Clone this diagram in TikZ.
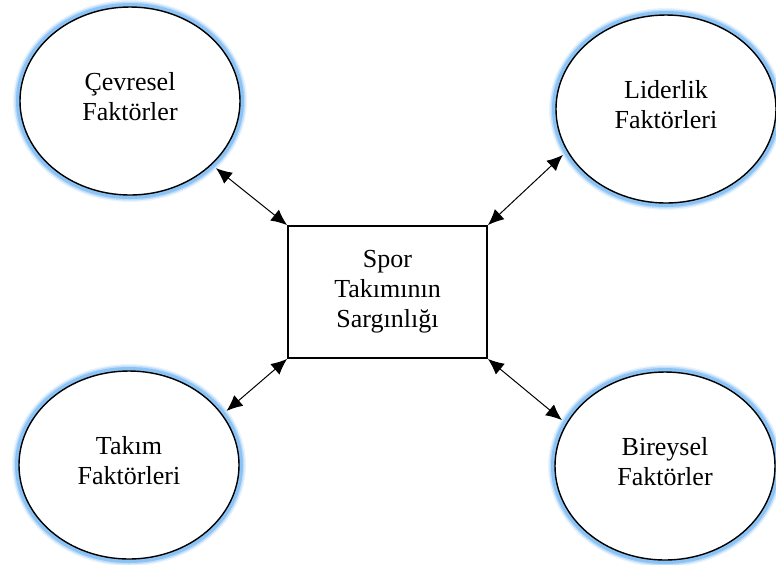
\documentclass[tikz,border=0pt]{standalone}
\usepackage{fontspec}
\setmainfont{Liberation Serif}
\usepackage{tikz}
\usetikzlibrary{positioning}
\usetikzlibrary{shapes.geometric}
\usetikzlibrary{arrows.meta}
\definecolor{glowblue}{RGB}{140,195,245}

\begin{document}
\begin{tikzpicture}[x=0.5pt, y=-0.5pt,
    every node/.style={font=\fontsize{13}{15}\selectfont, align=center},
    factor/.style={ellipse, draw, line width=0.7pt, fill=white, inner sep=0pt, outer sep=3pt,
        minimum width=110pt, minimum height=94pt,
        preaction={draw=glowblue!20, line width=7pt},
        preaction={draw=glowblue!55, line width=5.5pt},
        preaction={draw=glowblue, line width=4pt}},
    centerbox/.style={rectangle, draw, line width=0.9pt, minimum width=99.5pt, minimum height=66pt},
    link/.style={{Latex[length=8pt,width=7pt]}-{Latex[length=8pt,width=7pt]}, line width=0.5pt}]

                \useasboundingbox (0,0) rectangle (776,564);

                % Nodes
                \node at (130,101) (cevre) [factor] {Çevresel\\Faktörler\\[-10pt]};
                \node at (666,109) (lider) [factor] {Liderlik\\Faktörleri\\[-10pt]};
                \node at (129,465) (takim) [factor] {Takım\\Faktörleri\\[-10pt]};
                \node at (665,466) (birey) [factor] {Bireysel\\Faktörler\\[-10pt]};
                \node at (387.5,292) (spor) [centerbox] {Spor\\Takımının\\Sargınlığı};

                % Arrows
                \draw[link] (cevre.322) -- (spor.north west);
                \draw[link] (lider.204) -- (spor.north east);
                \draw[link] (takim.29) -- (spor.south west);
                \draw[link] (birey.156) -- (spor.south east);

            \end{tikzpicture}
\end{document}
